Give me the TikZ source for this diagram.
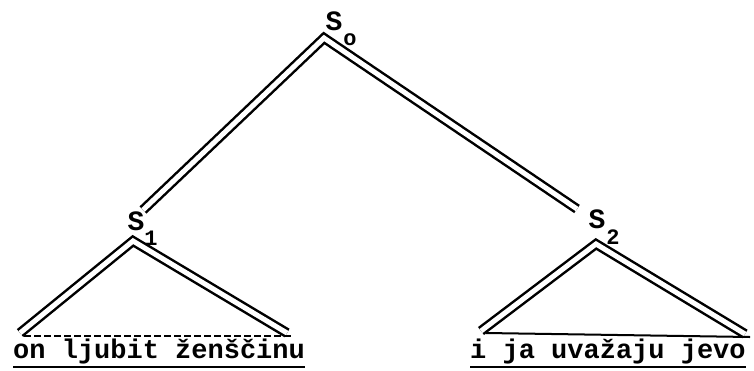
\documentclass[tikz,border=0pt]{standalone}
\usepackage{fontspec}
\setmonofont{Liberation Mono}
\begin{document}
\begin{tikzpicture}[x=1pt,y=-1pt,
  dline/.style={line width=2.5pt, double distance=5pt, line join=miter},
  base/.style={line width=2pt},
  lab/.style={font=\ttfamily\bfseries\fontsize{28}{28}\selectfont, inner sep=0pt},
  sub/.style={font=\ttfamily\bfseries\fontsize{22}{22}\selectfont, inner sep=0pt},
  words/.style={font=\ttfamily\bfseries\fontsize{27}{27}\selectfont, inner sep=0pt, anchor=base west}]
\useasboundingbox (0,0) rectangle (754,370);
% labels
\node[lab] (S0) at (334,21) {S};
\node[sub] (S0s) at (350,40) {o};
\node[lab] (S1) at (136,221) {S};
\node[sub] (S1s) at (151,238) {1};
\node[lab] (S2) at (597,219) {S};
\node[sub] (S2s) at (613,237) {2};
% skeleton points
\coordinate (top) at (324,38);
\coordinate (e1) at (143,210);
\coordinate (e2) at (577,209);
\coordinate (a1) at (133,241);
\coordinate (l1) at (20,333);
\coordinate (r1) at (287,333);
\coordinate (a2) at (596,244);
\coordinate (l2) at (481,331);
\coordinate (r2) at (745,334);
% top branches
\draw[dline] (e1) -- (top) -- (e2);
% left triangle
\draw[dline] (l1) -- (a1) -- (r1);
\draw[base, dash pattern=on 7pt off 3pt] (24,336) coordinate (b1l) -- (292,336) coordinate (b1r);
% right triangle
\draw[dline] (l2) -- (a2) -- (r2);
\draw[base] (486,333) coordinate (b2l) -- (750,337) coordinate (b2r);
% sentences
\node[words] (t1) at (13,358) {on ljubit ženščinu};
\node[words] (t2) at (470,358) {i ja uvažaju jevo};
\draw[line width=2.5pt] ([yshift=-9pt]t1.base west) -- ([yshift=-9pt]t1.base east);
\draw[line width=2.5pt] ([yshift=-9pt]t2.base west) -- ([yshift=-9pt]t2.base east);
\end{tikzpicture}
\end{document}
